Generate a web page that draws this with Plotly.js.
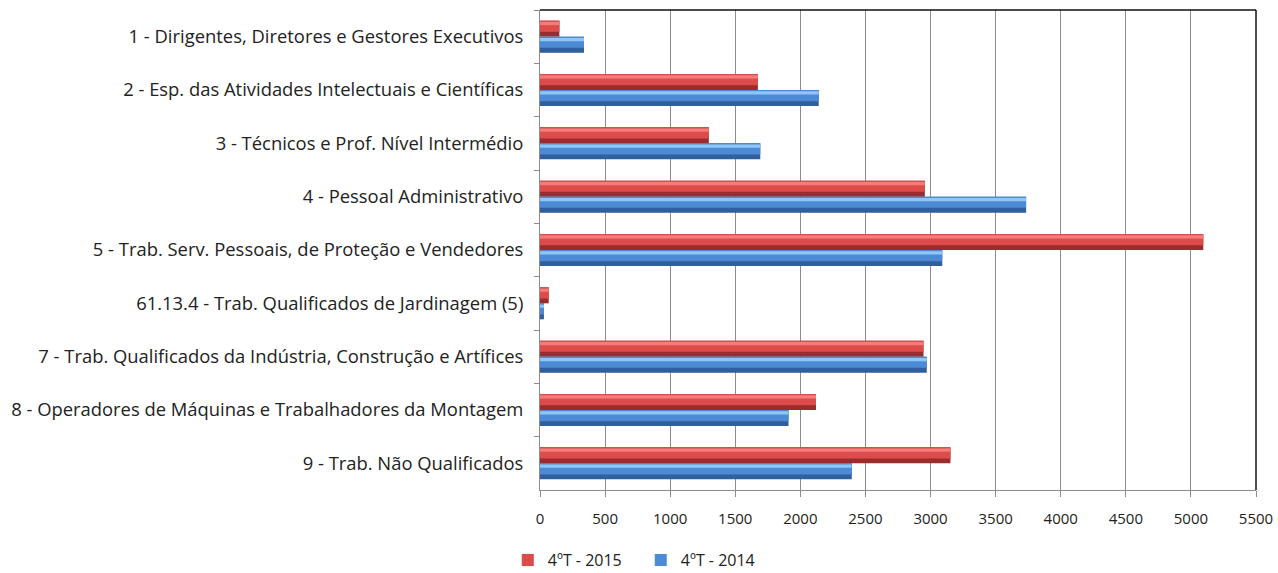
<!DOCTYPE html>
<html>
<head>
<meta charset="utf-8">
<script src="https://cdn.plot.ly/plotly-3.0.1.min.js"></script>
<style>
  html, body { margin: 0; padding: 0; background: #fff; }
  #chart { width: 1278px; height: 573px; }
</style>
</head>
<body>
<div id="chart"></div>
<script>
// Occupational groups (top to bottom)
const categories = [
  "1 - Dirigentes, Diretores e Gestores Executivos",
  "2 - Esp. das Atividades Intelectuais e Científicas",
  "3 - Técnicos e Prof. Nível Intermédio",
  "4 - Pessoal Administrativo",
  "5 - Trab. Serv. Pessoais, de Proteção e Vendedores",
  "61.13.4 - Trab. Qualificados de Jardinagem (5)",
  "7 - Trab. Qualificados da Indústria, Construção e Artífices",
  "8 - Operadores de Máquinas e Trabalhadores da Montagem",
  "9 - Trab. Não Qualificados"
];
const values2015 = [149, 1674, 1297, 2956, 5095, 67, 2946, 2120, 3153];
const values2014 = [338, 2141, 1692, 3734, 3090, 30, 2971, 1909, 2395];
const seriesNames = ["4ºT - 2015", "4ºT - 2014"];
const xTicks = [0, 500, 1000, 1500, 2000, 2500, 3000, 3500, 4000, 4500, 5000, 5500];

const FONT = "Open Sans, Liberation Sans, sans-serif";
const BAR_W = 0.3;

// Each series is drawn as three stacked layers to give the bars a bevelled look:
// dark base, main body on the upper part, and a light highlight stripe.
function layers(values, name, offset, shades) {
  const common = {
    type: "bar", orientation: "h", x: values, y: categories,
    legendgroup: name, hoverinfo: "x+name", name: name
  };
  return [
    Object.assign({}, common, {
      offset: offset, width: BAR_W, showlegend: false,
      marker: { color: shades.dark, line: { width: 0 } }
    }),
    Object.assign({}, common, {
      offset: offset, width: BAR_W * 0.7, showlegend: true,
      marker: { color: shades.main, line: { width: 0 } }
    }),
    Object.assign({}, common, {
      offset: offset + BAR_W * 0.08, width: BAR_W * 0.2, showlegend: false,
      marker: { color: shades.light, line: { width: 0 } }
    })
  ];
}

const traces = [].concat(
  layers(values2015, seriesNames[0], -BAR_W,
    { dark: "#9a2d2b", main: "#dc4c4a", light: "#f47c7a" }),
  layers(values2014, seriesNames[1], 0,
    { dark: "#2f5f9c", main: "#4d8ad6", light: "#8fc6f6" })
);

const layout = {
  width: 1278, height: 573,
  margin: { l: 540, r: 22, t: 10, b: 83, autoexpand: false },
  paper_bgcolor: "#ffffff", plot_bgcolor: "#ffffff",
  barmode: "overlay",
  font: { family: FONT, size: 15, color: "#222" },
  showlegend: true,
  legend: {
    orientation: "h", x: -0.045, xanchor: "left", y: -0.146, yanchor: "middle",
    traceorder: "normal", font: { family: FONT, size: 16, color: "#222" },
    itemwidth: 30, tracegroupgap: 0,
    entrywidth: 88, entrywidthmode: "pixels"
  },
  xaxis: {
    range: [0, 5500], tickvals: xTicks, ticktext: xTicks.map(String),
    showgrid: true, gridcolor: "#8c8c8c", gridwidth: 1,
    showline: true, linecolor: "#8c8c8c", linewidth: 1,
    ticks: "outside", ticklen: 6, tickcolor: "#8c8c8c",
    ticklabelstandoff: 9, zeroline: false,
    tickfont: { family: FONT, size: 15, color: "#222" }
  },
  yaxis: {
    type: "category", autorange: "reversed",
    showline: true, linecolor: "#8c8c8c", linewidth: 1,
    ticks: "outside", ticklen: 5, tickcolor: "#8c8c8c", tickson: "boundaries",
    showgrid: false, ticklabelstandoff: 12,
    tickfont: { family: FONT, size: 18.4, color: "#222" }
  },
  shapes: [
    { type: "line", xref: "paper", yref: "paper", x0: 0, x1: 1, y0: 1, y1: 1,
      line: { color: "#111", width: 1.5 } },
    { type: "line", xref: "paper", yref: "paper", x0: 1, x1: 1, y0: 0, y1: 1,
      line: { color: "#111", width: 1.5 } }
  ]
};

Plotly.newPlot("chart", traces, layout, { displayModeBar: false, staticPlot: true });
</script>
</body>
</html>
